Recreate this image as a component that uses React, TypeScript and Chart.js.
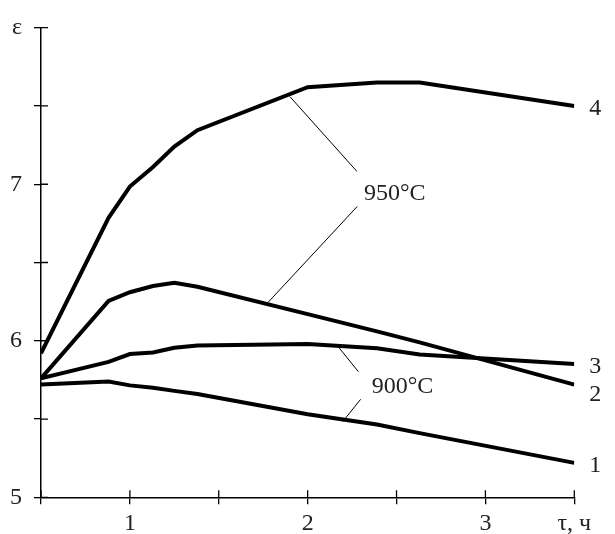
import React, { useEffect, useRef } from "react";
import { Chart, registerables } from "chart.js";

Chart.register(...registerables);

// τ, h (shared abscissa of the measured points)
const tau = [0.5, 0.88, 1.0, 1.13, 1.25, 1.38, 2.0, 2.39, 2.63, 3.5];
// ε for each curve
const eps1 = [5.72, 5.74, 5.715, 5.7, 5.68, 5.66, 5.53, 5.465, 5.41, 5.22];
const eps2 = [5.76, 6.255, 6.31, 6.35, 6.37, 6.345, 6.17, 6.06, 5.99, 5.72];
const eps3 = [5.76, 5.865, 5.915, 5.925, 5.955, 5.97, 5.98, 5.952, 5.912, 5.852];
const eps4 = [5.92, 6.785, 6.985, 7.11, 7.24, 7.345, 7.62, 7.65, 7.65, 7.5];
const curveNames = ["1", "2", "3", "4"];

const xTickLabels: Record<string, string> = { "1": "1", "2": "2", "3": "3", "3.5": "τ, ч" };
const yTickLabels: Record<string, string> = { "5": "5", "6": "6", "7": "7", "8": "ε" };

const tempLabels = ["950°C", "900°C"];

const FONT = "'Liberation Serif', 'Times New Roman', Times, serif";
const TEXT = "#222";

const overlay = {
  id: "overlay",
  afterDraw(chart: any) {
    const { ctx } = chart;
    const xs = chart.scales.x;
    const ys = chart.scales.y;
    const X = (v: number) => xs.getPixelForValue(v);
    const Y = (v: number) => ys.getPixelForValue(v);
    ctx.save();
    // inner halves of the tick marks
    ctx.strokeStyle = "#000";
    ctx.lineWidth = 1.3;
    ctx.beginPath();
    xs.ticks.forEach((t: any) => {
      const px = X(t.value);
      ctx.moveTo(px, ys.bottom);
      ctx.lineTo(px, ys.bottom - 7);
    });
    ys.ticks.forEach((t: any) => {
      const py = Y(t.value);
      ctx.moveTo(xs.left, py);
      ctx.lineTo(xs.left + 7, py);
    });
    ctx.stroke();

    // leader lines
    ctx.lineWidth = 1;
    const leaders: [number, number, number, number][] = [
      [1.9, 7.56, 2.277, 7.082],
      [2.279, 6.858, 1.778, 6.246],
      [2.172, 5.962, 2.285, 5.803],
      [2.298, 5.626, 2.197, 5.483],
    ];
    ctx.beginPath();
    leaders.forEach(([a, b, c, d]) => {
      ctx.moveTo(X(a), Y(b));
      ctx.lineTo(X(c), Y(d));
    });
    ctx.stroke();

    ctx.fillStyle = TEXT;
    ctx.font = `24px ${FONT}`;
    ctx.textAlign = "left";
    ctx.textBaseline = "alphabetic";
    ctx.fillText(tempLabels[0], X(2.317), Y(6.9));
    ctx.fillText(tempLabels[1], X(2.36), Y(5.665));

    // curve numbers at the line ends
    const offs = [3, 10, 3, 3];
    ctx.textBaseline = "middle";
    chart.data.datasets.forEach((ds: any, i: number) => {
      const meta = chart.getDatasetMeta(i);
      const last = meta.data[meta.data.length - 1];
      ctx.fillText(curveNames[i], last.x + 15, last.y + offs[i]);
    });
    ctx.restore();
  },
};

export default function App() {
  const ref = useRef<HTMLCanvasElement>(null);
  useEffect(() => {
    let chart: any = null;
    let cancelled = false;
    const build = () => {
      if (cancelled || !ref.current) return;
      const mk = (arr: number[]) => tau.map((t, i) => ({ x: t, y: arr[i] }));
      const series = [eps1, eps2, eps3, eps4];
      chart = new Chart(ref.current, {
        type: "line",
        data: {
          datasets: series.map((s, i) => ({
            label: curveNames[i],
            data: mk(s),
            borderColor: "#000",
            borderWidth: 4,
            pointRadius: 0,
            tension: 0,
            fill: false,
          })),
        },
        options: {
          responsive: false,
          animation: false,
          layout: { padding: { left: 0, top: 27.7, right: 40.7, bottom: 0 } },
          plugins: { legend: { display: false }, tooltip: { enabled: false }, title: { display: false } },
          scales: {
            x: {
              type: "linear",
              min: 0.5,
              max: 3.5,
              afterFit: (s: any) => {
                s.height = 36.7;
              },
              grid: { display: true, drawOnChartArea: false, drawTicks: true, tickLength: 7, color: "#000", lineWidth: 1.3 },
              border: { display: true, color: "#000", width: 1.5 },
              ticks: {
                stepSize: 0.5,
                autoSkip: false,
                maxRotation: 0,
                padding: 5,
                color: TEXT,
                font: { family: FONT, size: 24 },
                callback: (v: any) => xTickLabels[String(Math.round(Number(v) * 100) / 100)] ?? "",
              },
            },
            y: {
              type: "linear",
              min: 5,
              max: 8,
              afterFit: (s: any) => {
                s.width = 41;
              },
              grid: { display: true, drawOnChartArea: false, drawTicks: true, tickLength: 7, color: "#000", lineWidth: 1.3 },
              border: { display: true, color: "#000", width: 1.5 },
              ticks: {
                stepSize: 0.5,
                autoSkip: false,
                padding: 12,
                color: TEXT,
                font: { family: FONT, size: 24 },
                callback: (v: any) => yTickLabels[String(Math.round(Number(v) * 100) / 100)] ?? "",
              },
            },
          },
        },
        plugins: [overlay],
      });
    };
    const fontsApi: any = (document as any).fonts;
    if (fontsApi && fontsApi.load) {
      fontsApi
        .load("24px 'Liberation Serif'", "950°C τ, ч ε")
        .then(build, build);
    } else {
      build();
    }
    return () => {
      cancelled = true;
      if (chart) chart.destroy();
    };
  }, []);
  return (
    <div style={{ position: "fixed", left: 0, top: 0, width: 615, height: 534, background: "#fff" }}>
      <canvas ref={ref} width={615} height={534} />
    </div>
  );
}
